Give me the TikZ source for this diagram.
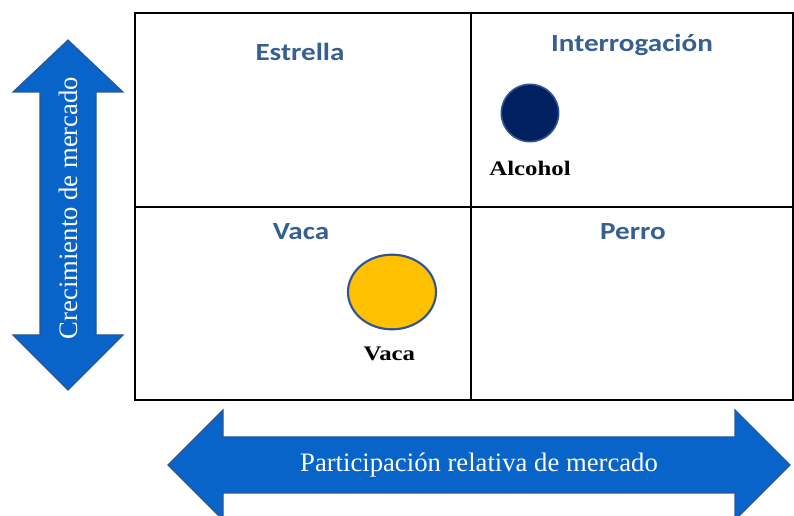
\documentclass[tikz,border=0pt]{standalone}
\usepackage{fontspec}
\usepackage{xcolor}
\setmainfont{Liberation Serif}
\newfontfamily\quadfont{Carlito}[FakeStretch=1.18]
\newfontfamily\dotfont{Liberation Serif}[FakeStretch=1.2]
\usetikzlibrary{positioning,shapes.geometric}

\definecolor{axisblue}{RGB}{8,100,200}
\definecolor{axisedge}{RGB}{45,85,150}
\definecolor{quadblue}{RGB}{54,96,146}
\definecolor{alcoholnavy}{RGB}{0,32,96}
\definecolor{vacagold}{RGB}{255,192,0}
\definecolor{ringblue}{RGB}{47,85,151}

\begin{document}
\begin{tikzpicture}[
    x=0.75pt, y=-0.75pt,
    quad/.style={font=\quadfont\bfseries\fontsize{18.5}{22}\selectfont, text=quadblue},
    dotlabel/.style={font=\dotfont\bfseries\fontsize{15.5}{18}\selectfont, inner sep=0pt},
    axisarrow/.style={fill=axisblue, draw=axisedge, line width=0.8pt, line join=miter},
    axistext/.style={font=\fontsize{20}{24}\selectfont, text=white, inner sep=0pt}
]
    \useasboundingbox (0,0) rectangle (794,516);
    \clip (0,0) rectangle (794,516);

    % growth-share matrix
    \draw[line width=1.5pt] (135,13) rectangle (793,400);
    \draw[line width=0.8pt] (471,13) -- (471,400);
    \draw[line width=0.8pt] (135,207) -- (793,207);

    \node[quad] (estrella) at (300,52) {Estrella};
    \node[quad] (interrog) at (632,45) {Interrogación};
    \node[quad] (vacaq) at (301,232) {Vaca};
    \node[quad] (perro) at (633,232) {Perro};

    % products
    \node[circle, fill=alcoholnavy, draw=ringblue, line width=1.2pt, minimum size=43pt, inner sep=0pt] (alcdot) at (530,113) {};
    \node[dotlabel, below=14pt of alcdot] (alcohol) {Alcohol};
    \node[ellipse, fill=vacagold, draw=ringblue, line width=1.6pt, minimum width=66pt, minimum height=56pt, inner sep=0pt] (vacadot) at (392,292) {};
    \node[dotlabel, below=12pt of vacadot, xshift=-2pt] (vaca) {Vaca};

    % axes
    \draw[axisarrow] (68,40) -- (123,92) -- (96,92) -- (96,335) -- (123,335) -- (68,390)
        -- (13,335) -- (40,335) -- (40,92) -- (13,92) -- cycle;
    \node[axistext, rotate=90] (growth) at (68,208) {Crecimiento de mercado};

    \draw[axisarrow] (168,465) -- (223,410) -- (223,437) -- (735,437) -- (735,410) -- (790,465)
        -- (735,520) -- (735,493) -- (223,493) -- (223,520) -- cycle;
    \node[axistext] (share) at (479,465) {Participación relativa de mercado};
\end{tikzpicture}
\end{document}
